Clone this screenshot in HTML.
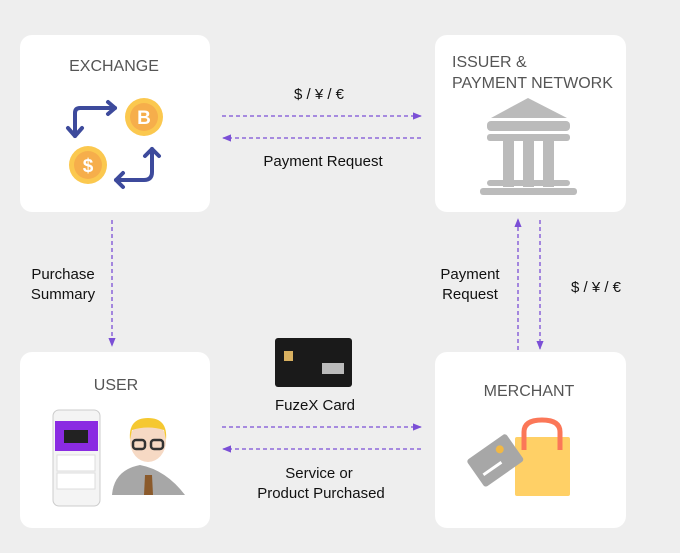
<!DOCTYPE html>
<html><head><meta charset="utf-8"><style>
html,body{margin:0;padding:0;background:#eeeeee;}
svg{display:block;font-family:"Liberation Sans",sans-serif;}
</style></head><body>
<svg width="680" height="553" viewBox="0 0 680 553" xmlns="http://www.w3.org/2000/svg">
<defs>
<marker id="ah" viewBox="0 0 10 10" refX="9" refY="5" markerWidth="7" markerHeight="7" orient="auto-start-reverse"><path d="M0,1 L10,5 L0,9 z" fill="#7b4fd6"/></marker>
</defs>
<rect width="680" height="553" fill="#eeeeee"/>
<rect x="20" y="35" width="190" height="177" rx="12" fill="#fff"/>
<rect x="435" y="35" width="191" height="177" rx="12" fill="#fff"/>
<rect x="20" y="352" width="190" height="176" rx="12" fill="#fff"/>
<rect x="435" y="352" width="191" height="176" rx="12" fill="#fff"/>

<g fill="#555" font-size="16">
<text x="114" y="71" text-anchor="middle">EXCHANGE</text>
<text x="452" y="67">ISSUER &amp;</text>
<text x="452" y="88">PAYMENT NETWORK</text>
<text x="116" y="390" text-anchor="middle">USER</text>
<text x="529" y="396" text-anchor="middle">MERCHANT</text>
</g>

<g stroke="#7b4fd6" stroke-width="1.3" stroke-dasharray="4,3" fill="none">
<line x1="222" y1="116" x2="421" y2="116" marker-end="url(#ah)"/>
<line x1="421" y1="138" x2="223" y2="138" marker-end="url(#ah)"/>
<line x1="112" y1="220" x2="112" y2="346" marker-end="url(#ah)"/>
<line x1="518" y1="350" x2="518" y2="219" marker-end="url(#ah)"/>
<line x1="540" y1="220" x2="540" y2="349" marker-end="url(#ah)"/>
<line x1="222" y1="427" x2="421" y2="427" marker-end="url(#ah)"/>
<line x1="421" y1="449" x2="223" y2="449" marker-end="url(#ah)"/>
</g>

<g fill="#111" font-size="15" text-anchor="middle">
<text x="319" y="99">$ / ¥ / €</text>
<text x="323" y="166">Payment Request</text>
<text x="63" y="279">Purchase</text>
<text x="63" y="299">Summary</text>
<text x="470" y="279">Payment</text>
<text x="470" y="299">Request</text>
<text x="596" y="292">$ / ¥ / €</text>
<text x="315" y="410">FuzeX Card</text>
<text x="319" y="478">Service or</text>
<text x="321" y="498">Product Purchased</text>
</g>

<!-- exchange icon -->
<g>
<circle cx="144" cy="117" r="19" fill="#fbc84f"/><circle cx="144" cy="117" r="14" fill="#f6ae4b"/>
<text x="144" y="124" text-anchor="middle" font-size="19" font-weight="bold" fill="#fff">B</text>
<circle cx="88" cy="165" r="19" fill="#fbc84f"/><circle cx="88" cy="165" r="14" fill="#f6ae4b"/>
<text x="88" y="172" text-anchor="middle" font-size="19" font-weight="bold" fill="#fff">$</text>
<g stroke="#3d4a9c" stroke-width="4" fill="none" stroke-linecap="round" stroke-linejoin="round">
<path d="M115,108 H80 Q75,108 75,113 V136"/><path d="M68,128 L75,136 L82,128"/>
<path d="M108,102 L115,108 L108,114"/>
<path d="M152,149 V172 Q152,180 144,180 H116"/><path d="M145,156 L152,149 L159,156"/>
<path d="M123,173 L116,180 L123,187"/>
</g>
</g>

<!-- bank -->
<g fill="#bbbbbb">
<polygon points="528,98 491,118 567,118"/>
<rect x="487" y="121" width="83" height="10" rx="4"/>
<rect x="487" y="134" width="83" height="7" rx="3"/>
<rect x="503" y="141" width="11" height="46"/>
<rect x="523" y="141" width="11" height="46"/>
<rect x="543" y="141" width="11" height="46"/>
<rect x="487" y="180" width="83" height="6" rx="3"/>
<rect x="480" y="188" width="97" height="7" rx="3"/>
</g>

<!-- card -->
<rect x="275" y="338" width="77" height="49" rx="3" fill="#1a1a1a"/>
<rect x="284" y="351" width="9" height="10" fill="#d8b060"/>
<rect x="322" y="363" width="22" height="11" fill="#bbb"/>

<!-- phone -->
<rect x="53" y="410" width="47" height="96" rx="6" fill="#f4f4f4" stroke="#ccc"/>
<rect x="55" y="421" width="43" height="30" fill="#8a2be2"/>
<rect x="64" y="430" width="24" height="13" fill="#222"/>
<rect x="57" y="455" width="38" height="16" fill="#fff" stroke="#ddd"/>
<rect x="57" y="473" width="38" height="16" fill="#fff" stroke="#ddd"/>
<!-- person -->
<path d="M112,495 Q114,470 140,465 Q166,470 185,495 Z" fill="#a7a7a7"/>
<polygon points="145,475 152,475 153,495 144,495" fill="#8b5a2b"/>
<ellipse cx="148" cy="441" rx="18" ry="21" fill="#f6d9c4"/>
<path d="M130,440 Q128,418 148,418 Q168,418 166,440 L164,430 Q148,425 132,430 Z" fill="#f5c831"/>
<g fill="none" stroke="#333" stroke-width="2.5"><rect x="133" y="440" width="12" height="9" rx="3"/><rect x="151" y="440" width="12" height="9" rx="3"/></g>

<!-- merchant -->
<rect x="515" y="437" width="55" height="59" rx="2" fill="#ffd066"/>
<path d="M524,450 V432 Q524,420 542,420 Q560,420 560,432 V450" fill="none" stroke="#fb7758" stroke-width="5"/>
<g transform="translate(495,460) rotate(-35)">
<rect x="-24" y="-16" width="48" height="33" rx="3" fill="#a7a7a7"/>
<circle cx="10" cy="-6" r="4" fill="#f1b845"/>
<rect x="-18" y="4" width="22" height="3" fill="#fff"/>
</g>
</svg>
</body></html>
